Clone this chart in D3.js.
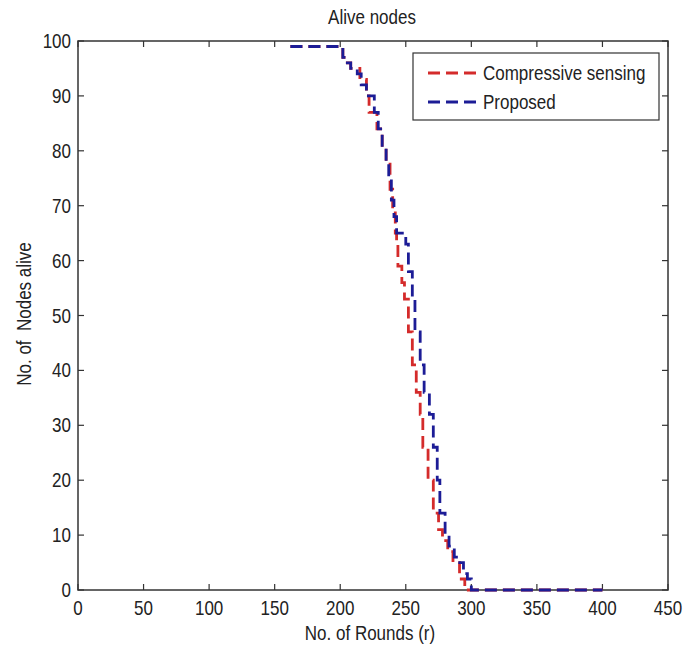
<!DOCTYPE html>
<html>
<head>
<meta charset="utf-8">
<script src="https://cdn.jsdelivr.net/npm/d3@7"></script>
<style>
  html, body { margin: 0; padding: 0; background: #fff; }
  svg { display: block; }
  text { font-family: "Liberation Sans", Arial, sans-serif; fill: #222; white-space: pre; }
</style>
</head>
<body>
<svg id="chart" width="683" height="651"></svg>
<script>
// ---- data ----
const xTicks = [0, 50, 100, 150, 200, 250, 300, 350, 400, 450];
const yTicks = [0, 10, 20, 30, 40, 50, 60, 70, 80, 90, 100];

const csRounds = [162, 200, 202, 204, 208, 215, 220, 222, 228, 232, 235, 238, 240, 242, 243, 244, 247, 249, 252, 255, 258, 261, 263, 267, 271, 275, 278, 282, 286, 291, 295, 400];
const csAlive  = [99, 99, 97, 96, 95, 93, 90, 87, 84, 81, 78, 73, 69, 65, 63, 59, 56, 53, 47, 41, 36, 32, 26, 20, 14, 11, 9, 7, 5, 2, 0, 0];

const prRounds = [162, 200, 202, 204, 208, 213, 216, 220, 226, 229, 232, 235, 237, 239, 241, 243, 250, 252, 255, 257, 261, 264, 268, 271, 274, 276, 280, 283, 287, 290, 294, 297, 300, 400];
const prAlive  = [99, 99, 97, 96, 95, 94, 92, 90, 87, 84, 81, 78, 75, 71, 68, 65, 63, 58, 53, 47, 41, 36, 32, 26, 20, 14, 10, 8, 6, 5, 3, 2, 0, 0];

const seriesNames = ["Compressive sensing", "Proposed"];
const seriesColors = ["#d42b2b", "#1c1c96"];

// ---- layout ----
const svg = d3.select("#chart");
const mLeft = 78, mRight = 668, mTop = 41, mBottom = 590;

const x = d3.scaleLinear().domain([0, 450]).range([mLeft, mRight]);
const y = d3.scaleLinear().domain([0, 100]).range([mBottom, mTop]);

const fontSize = 20;
const squeeze = 0.85;
const axisColor = "#333";
const tickLen = 6;

// condensed text helper
function label(parent, tx, ty, str, anchor, rot) {
  return parent.append("text")
    .attr("transform", `translate(${tx},${ty})${rot ? " rotate(" + rot + ")" : ""} scale(${squeeze},1)`)
    .attr("text-anchor", anchor)
    .attr("dominant-baseline", "central")
    .attr("font-size", fontSize)
    .text(str);
}

// box
svg.append("rect")
  .attr("x", mLeft).attr("y", mTop)
  .attr("width", mRight - mLeft).attr("height", mBottom - mTop)
  .attr("fill", "none").attr("stroke", axisColor).attr("stroke-width", 1.5);

// ticks (inward, on all four sides)
const tg = svg.append("g").attr("stroke", axisColor).attr("stroke-width", 1.2);
xTicks.forEach(t => {
  tg.append("line").attr("x1", x(t)).attr("x2", x(t)).attr("y1", mBottom).attr("y2", mBottom - tickLen);
  tg.append("line").attr("x1", x(t)).attr("x2", x(t)).attr("y1", mTop).attr("y2", mTop + tickLen);
});
yTicks.forEach(t => {
  tg.append("line").attr("x1", mLeft).attr("x2", mLeft + tickLen).attr("y1", y(t)).attr("y2", y(t));
  tg.append("line").attr("x1", mRight).attr("x2", mRight - tickLen).attr("y1", y(t)).attr("y2", y(t));
});

// tick labels
const xl = svg.append("g");
xTicks.forEach(t => label(xl, x(t), mBottom + 18, t, "middle"));
const yl = svg.append("g");
yTicks.forEach(t => label(yl, mLeft - 7, y(t), t, "end"));

// title and axis labels
label(svg, 372, 17, "Alive nodes", "middle");
label(svg, 370, 633, "No. of Rounds (r)", "middle");
label(svg, 24, 314, "No. of  Nodes alive", "middle", -90);

// lines
const line = d3.line().x(d => x(d[0])).y(d => y(d[1])).curve(d3.curveStepAfter);
const series = [
  d3.zip(csRounds, csAlive),
  d3.zip(prRounds, prAlive)
];
series.forEach((s, i) => {
  svg.append("path").datum(s)
    .attr("d", line)
    .attr("fill", "none")
    .attr("stroke", seriesColors[i])
    .attr("stroke-width", 2.8)
    .attr("stroke-dasharray", "12,6");
});

// legend
const lg = svg.append("g");
lg.append("rect").attr("x", 413).attr("y", 53).attr("width", 246).attr("height", 67)
  .attr("fill", "#fff").attr("stroke", axisColor).attr("stroke-width", 1.2);
const legY = [73, 102];
seriesNames.forEach((n, i) => {
  lg.append("line").attr("x1", 428).attr("x2", 480).attr("y1", legY[i]).attr("y2", legY[i])
    .attr("stroke", seriesColors[i]).attr("stroke-width", 2.8).attr("stroke-dasharray", "12,6");
  label(lg, 483, legY[i], n, "start");
});
</script>
</body>
</html>
